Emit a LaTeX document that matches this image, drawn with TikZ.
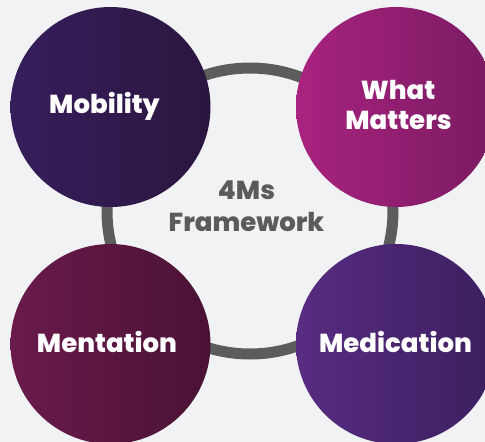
\documentclass[tikz,border=0pt]{standalone}
\usepackage{fontspec}
\setmainfont{Poppins}[BoldFont={Poppins ExtraBold}]
\definecolor{bg}{HTML}{F1F2F4}
\definecolor{ringgray}{HTML}{5C5C5C}
\definecolor{titlegray}{HTML}{5A5B5D}
\definecolor{mobL}{HTML}{361E5C}
\definecolor{mobR}{HTML}{2A163F}
\definecolor{whatL}{HTML}{A8237F}
\definecolor{whatR}{HTML}{7A1A62}
\definecolor{menL}{HTML}{6A1A4C}
\definecolor{menR}{HTML}{4A1235}
\definecolor{medL}{HTML}{582C82}
\definecolor{medR}{HTML}{3C1F5E}
\tikzset{
  mball/.style={circle, minimum size=200pt, inner sep=0pt},
  mlabel/.style={anchor=base, inner sep=0pt, text=white, font=\fontsize{26}{32}\selectfont\bfseries},
  ringline/.style={circle, draw=ringgray, line width=11pt, minimum size=286pt, inner sep=0pt},
  title/.style={anchor=base, inner sep=0pt, text=titlegray, font=\fontsize{26}{32}\selectfont\bfseries}
}
\begin{document}
\begin{tikzpicture}[x=1pt, y=-1pt]
\clip (0,0) rectangle (485,442);
\fill[bg] (0,0) rectangle (485,442);
\node[ringline] (ring) at (250,211) {};
\node[title] (ttl1) at (246.5,199.3) {4Ms};
\node[title] (ttl2) at (246.5,231) {Framework};
\node[mball, left color=mobL, right color=mobR] (mob) at (110.5,107) {};
\node[mball, left color=whatL, right color=whatR] (what) at (396,107) {};
\node[mball, left color=menL, right color=menR] (men) at (110.5,344) {};
\node[mball, left color=medL, right color=medR] (med) at (396,344) {};
\node[mlabel] (mobt) at (104.5,113) {Mobility};
\node[mlabel] (whatt1) at (398,99) {What};
\node[mlabel] (whatt2) at (398.5,129) {Matters};
\node[mlabel] (ment) at (107,352) {Mentation};
\node[mlabel] (medt) at (395.5,352) {Medication};
\end{tikzpicture}
\end{document}
